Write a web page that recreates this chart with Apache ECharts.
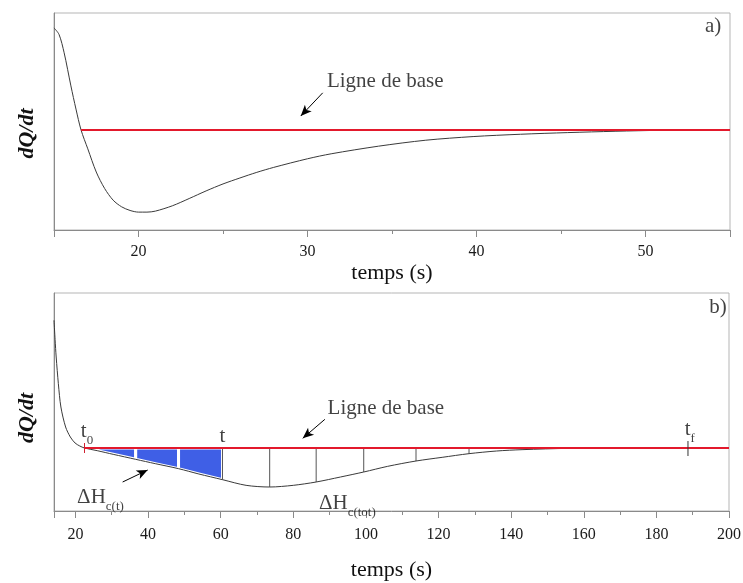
<!DOCTYPE html>
<html><head><meta charset="utf-8">
<script src="https://cdn.jsdelivr.net/npm/echarts@6/dist/echarts.min.js"></script>
<style>html,body{margin:0;padding:0;background:#fff}#c{width:743px;height:583px}</style>
</head><body><div id="c"></div>
<script>
// ---- panel a) ----
const timeA = [15, 15.3, 15.6, 16.0, 16.3, 16.6, 17, 17.5, 18, 18.5, 19, 19.5, 20, 20.5, 21, 22, 23, 24, 25, 26, 27, 28, 30, 31.4, 34.2, 37, 39.8, 42.6, 45.4, 48.2, 51, 53.8, 55];
const signalA = [30.8, 28.8, 23.3, 13.3, 6.3, 0, -5.7, -12.7, -17.7, -21.2, -23.2, -24.3, -24.8, -24.8, -24.5, -22.9, -20.7, -18.4, -16.3, -14.5, -12.8, -11.3, -8.7, -7.2, -4.9, -3.1, -2.0, -1.3, -0.8, -0.4, -0.1, 0, 0];
const baselineTimeA = [16.6, 55];
const baselineValueA = [0, 0];
const tickLabelsA = [20, 30, 40, 50];

// ---- panel b) ----
const timeB = [14.1, 14.4, 14.7, 15.3, 16.0, 17.3, 18.6, 19.9, 21.2, 22.5, 26, 30.4, 36.6, 42, 48.4, 54, 60.5, 67, 73.5, 80, 86.3, 93, 99.4, 106, 113.8, 121, 128.4, 136, 143, 156, 169, 185, 200];
const signalB = [38.3, 32.5, 27.3, 19.3, 12.3, 6.3, 3.3, 1.5, 0.6, 0, -0.8, -1.9, -3.4, -4.7, -6.2, -7.8, -9.5, -11.2, -11.7, -11.2, -10.2, -8.7, -7.2, -5.5, -3.9, -2.8, -1.7, -0.9, -0.5, -0.1, 0, 0, 0];
const baselineTimeB = [22.5, 200];
const baselineValueB = [0, 0];
const sliceEdges = [22.5, 36.6, 48.4, 60.5];
const stepLines = [60.5, 73.5, 86.3, 99.4, 113.8, 128.4];
const limitMarks = [22.5, 188.7];
const tickLabelsB = [20, 40, 60, 80, 100, 120, 140, 160, 180, 200];

// ---- annotations (data units) ----
const annotA = [[34.6, 14.5, '{p|Ligne de base}'], [54.0, 31.1, '{p|a)}']];
const arrowA = [[30.9, 11.2], [29.6, 4.2]];
const annotB = [
  [23.2, 4.2, '{m|t}{s|0}'], [60.5, 3.6, '{p|t}'], [189.2, 4.7, '{m|t}{s|f}'],
  [105.5, 12.0, '{p|Ligne de base}'], [26.9, -15.5, '{m|ΔH}{s|c(t)}'],
  [94.9, -17.3, '{m|ΔH}{s|c(tot)}'], [197.0, 42.3, '{p|b)}']
];
const arrowsB = [[[88.7, 8.6], [82.6, 2.9]], [[33.0, -10.2], [39.9, -6.6]]];

const FONT = 'Liberation Serif';
const zip = (a, b) => a.map((v, i) => [v, b[i]]);
const curveAtB = t => signalB[timeB.indexOf(t)];

function xAxis(grid, min, max, split, labels, gap, margin) {
  return {
    gridIndex: grid, type: 'value', position: 'bottom', min: min, max: max, splitNumber: split,
    axisLine: {onZero: false, lineStyle: {color: '#8a8a8a', width: 1}},
    axisTick: {length: 7, lineStyle: {color: '#8a8a8a'}},
    axisLabel: {formatter: v => labels.includes(v) ? String(v) : '', color: '#1a1a1a', fontSize: 16, fontFamily: FONT, margin: margin},
    splitLine: {show: false},
    name: 'temps (s)', nameLocation: 'middle', nameGap: gap,
    nameTextStyle: {fontSize: 22, fontFamily: FONT, color: '#111'}
  };
}
function xMinorAxis(grid, min, max, split) {
  return {
    gridIndex: grid, type: 'value', position: 'bottom', offset: 0, min: min, max: max, splitNumber: split,
    axisLine: {show: false, onZero: false},
    axisTick: {length: 4, lineStyle: {color: '#8a8a8a'}},
    axisLabel: {show: false}, splitLine: {show: false}
  };
}
function yAxis(grid, min, max, shift) {
  return {
    gridIndex: grid, type: 'value', min: min, max: max,
    axisLine: {show: true, onZero: false, lineStyle: {color: '#8a8a8a', width: 1}},
    axisTick: {show: false}, axisLabel: {show: false}, splitLine: {show: false},
    name: 'dQ/dt', nameLocation: 'middle', nameGap: 16, nameRotate: 90,
    nameTextStyle: {fontSize: 22, fontStyle: 'italic', fontWeight: 'bold', fontFamily: FONT, color: '#111', padding: [0, shift, 0, 0]}
  };
}
const rich = {
  p: {fontSize: 21, fontFamily: FONT, color: '#111'},
  m: {fontSize: 21, fontFamily: FONT, color: '#111', verticalAlign: 'bottom', padding: [0, 0, 5, 0]},
  s: {fontSize: 13, fontFamily: FONT, color: '#111', verticalAlign: 'bottom'}
};
function annotSeries(x, y, data, arrows) {
  return {
    type: 'scatter', xAxisIndex: x, yAxisIndex: y, symbolSize: 0, silent: true, z: 10,
    data: data.map(d => ({value: [d[0], d[1]], label: {formatter: d[2]}})),
    label: {show: true, position: 'inside', color: '#111', rich: rich},
    markLine: {
      silent: true, symbol: ['none', 'arrow'], symbolSize: [7, 11], animation: false,
      lineStyle: {color: '#000', width: 1, type: 'solid'}, label: {show: false},
      data: arrows.map(a => [{coord: a[0]}, {coord: a[1]}])
    }
  };
}

const chart = echarts.init(document.getElementById('c'), null, {renderer: 'canvas'});
chart.setOption({
  animation: false,
  backgroundColor: '#fff',
  grid: [
    {left: 54, right: 13, top: 13, height: 217, show: true, borderColor: '#b5b5b5', borderWidth: 1, outerBoundsMode: 'none', containLabel: false},
    {left: 54, right: 14, top: 293, height: 218, show: true, borderColor: '#b5b5b5', borderWidth: 1, outerBoundsMode: 'none', containLabel: false}
  ],
  xAxis: [
    xAxis(0, 15, 55, 4, tickLabelsA, 32, 14), xAxis(1, 14.1, 200, 9, tickLabelsB, 48, 16),
    xMinorAxis(0, 15, 55, 8), xMinorAxis(1, 14.1, 200, 18)
  ],
  yAxis: [yAxis(0, -30.2, 35.3, 24), yAxis(1, -18.9, 46.5, 32)],
  series: [
    {type: 'line', xAxisIndex: 0, yAxisIndex: 0, data: zip(timeA, signalA), smooth: 0.3, showSymbol: false,
     lineStyle: {color: '#3a3a3a', width: 1}, z: 3},
    {type: 'line', xAxisIndex: 0, yAxisIndex: 0, data: zip(baselineTimeA, baselineValueA), showSymbol: false,
     lineStyle: {color: '#e3192c', width: 2}, z: 4},
    annotSeries(0, 0, annotA, [arrowA]),

    {type: 'custom', xAxisIndex: 1, yAxisIndex: 1, z: 2, silent: true,
     data: sliceEdges.slice(0, -1).map((a, i) => [a, sliceEdges[i + 1]]),
     renderItem: (params, api) => {
       const a = api.value(0), b = api.value(1);
       const pts = [api.coord([a, 0])];
       timeB.forEach((t, i) => { if (t >= a && t <= b) pts.push(api.coord([t, signalB[i]])); });
       pts.push(api.coord([b, 0]));
       return {type: 'polygon', shape: {points: pts}, style: {fill: '#3f5fe6', stroke: '#fff', lineWidth: 3}};
     }},
    {type: 'custom', xAxisIndex: 1, yAxisIndex: 1, z: 3, silent: true,
     data: stepLines.map(t => [t, curveAtB(t)]),
     renderItem: (params, api) => {
       const p0 = api.coord([api.value(0), 0]), p1 = api.coord([api.value(0), api.value(1)]);
       return {type: 'line', shape: {x1: p0[0], y1: p0[1], x2: p1[0], y2: p1[1]}, style: {stroke: '#555', lineWidth: 1}};
     }},
    {type: 'line', xAxisIndex: 1, yAxisIndex: 1, data: zip(timeB, signalB), smooth: 0.3, showSymbol: false,
     lineStyle: {color: '#3a3a3a', width: 1}, z: 4},
    {type: 'line', xAxisIndex: 1, yAxisIndex: 1, data: zip(baselineTimeB, baselineValueB), showSymbol: false,
     lineStyle: {color: '#e3192c', width: 2}, z: 5},
    {type: 'custom', xAxisIndex: 1, yAxisIndex: 1, z: 6, silent: true,
     data: limitMarks.map((t, i) => [t, i]),
     renderItem: (params, api) => {
       const p = api.coord([api.value(0), 0]);
       const first = api.value(1) === 0;
       return {type: 'line', shape: {x1: p[0], y1: p[1] - (first ? 5 : 7), x2: p[0], y2: p[1] + (first ? 5 : 8)},
               style: {stroke: first ? '#d02030' : '#333', lineWidth: 1}};
     }},
    annotSeries(1, 1, annotB, arrowsB)
  ]
});
</script>
</body></html>
